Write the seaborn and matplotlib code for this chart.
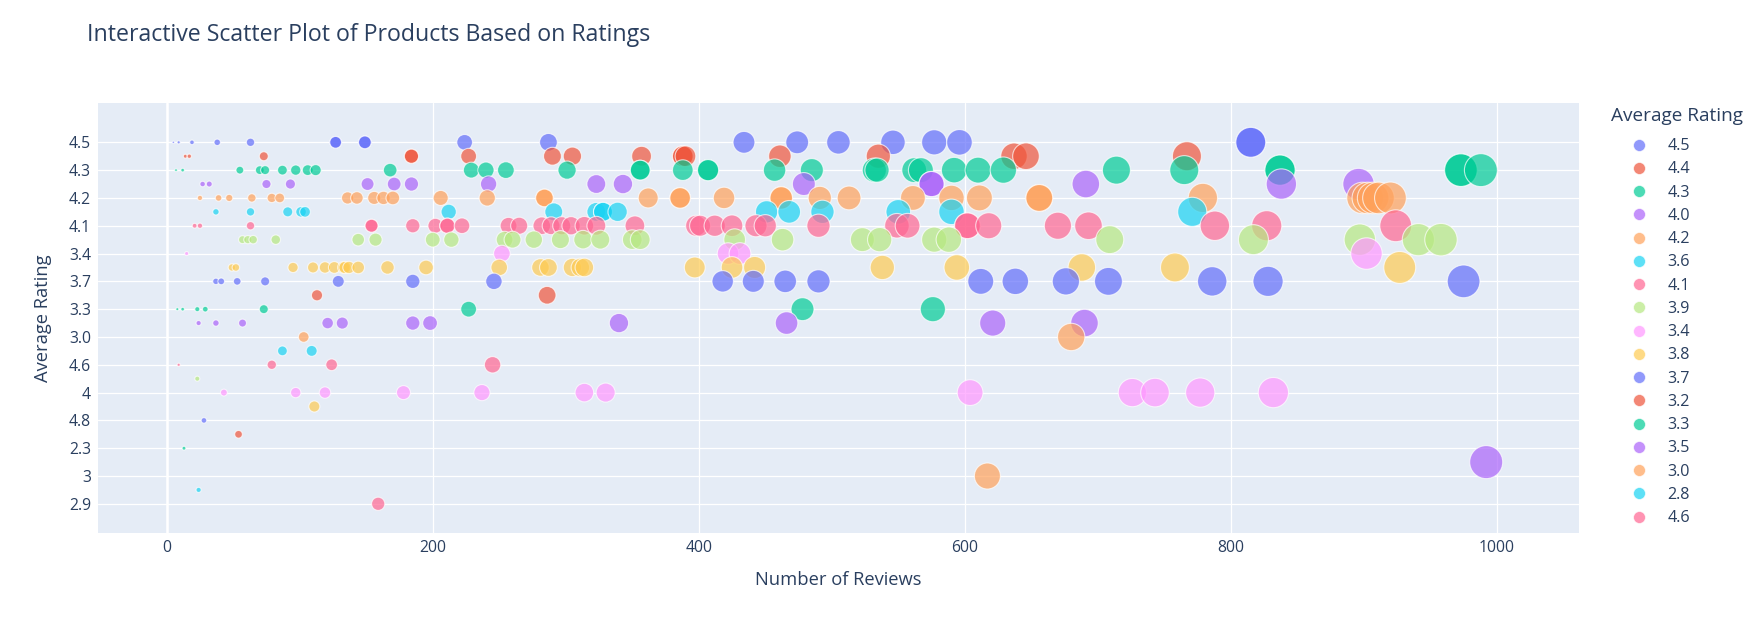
import pandas as pd
import matplotlib
matplotlib.use("Agg")
import matplotlib.pyplot as plt
from matplotlib.lines import Line2D
import seaborn as sns

# y categories in order of appearance (top to bottom)
rating_labels = ["4.5", "4.4", "4.3", "4.0", "4.2", "3.6", "4.1", "3.9", "3.4",
                 "3.8", "3.7", "3.2", "3.3", "3.5", "3.0", "2.8", "4.6", "4.7",
                 "4", "3.1", "4.8", "2.5", "2.3", "2", "3", "2.7", "2.9"]

# number of reviews per product, grouped by rating
reviews_4_5 = [5, 9, 19, 38, 63, 127, 127, 149, 149, 224, 287, 434, 474, 505,
               546, 577, 596, 815, 815]
reviews_4_4 = [14, 17, 73, 184, 184, 227, 290, 305, 357, 388, 388, 390, 461,
               535, 637, 646, 767]
reviews_4_3 = [7, 12, 55, 70, 74, 87, 97, 106, 112, 168, 229, 240, 255, 301,
               356, 356, 388, 407, 407, 457, 485, 532, 534, 562, 567, 592, 610,
               629, 714, 765, 837, 837, 973, 973, 988]
reviews_4_0 = [27, 32, 75, 93, 151, 171, 184, 242, 323, 343, 479, 575, 575,
               691, 838, 896]
reviews_4_2 = [25, 39, 47, 64, 79, 85, 136, 143, 156, 163, 170, 206, 241, 284,
               284, 362, 386, 386, 419, 462, 462, 491, 513, 561, 590, 611, 656,
               656, 779, 899, 903, 907, 911, 920]
reviews_3_6 = [37, 63, 91, 101, 104, 212, 291, 323, 328, 328, 339, 451, 468,
               493, 550, 590, 771]
reviews_4_1 = [21, 25, 63, 154, 154, 185, 202, 211, 211, 222, 257, 265, 282,
               289, 297, 304, 314, 323, 352, 398, 401, 412, 425, 443, 450, 490,
               549, 557, 602, 602, 618, 670, 693, 788, 827, 924]
reviews_3_9 = [57, 61, 65, 82, 144, 157, 200, 214, 254, 260, 276, 296, 313,
               326, 350, 356, 427, 463, 523, 536, 577, 588, 709, 817, 897, 941,
               958]
reviews_3_4 = [15, 252, 422, 431, 902]
reviews_3_8 = [49, 52, 95, 110, 119, 126, 133, 134, 137, 144, 166, 195, 250,
               281, 287, 305, 311, 314, 397, 425, 442, 538, 594, 688, 758, 927]
reviews_3_7 = [37, 41, 53, 74, 129, 185, 246, 418, 441, 465, 490, 612, 638,
               676, 708, 786, 828, 975]
reviews_3_2 = [113, 286]
reviews_3_3 = [8, 12, 23, 29, 73, 227, 478, 576]
reviews_3_5 = [24, 37, 57, 121, 132, 185, 198, 340, 466, 621, 690]
reviews_3_0 = [103, 680]
reviews_2_8 = [87, 109]
reviews_4_6 = [9, 79, 124, 245]
reviews_4_7 = [23]
reviews_4 = [43, 97, 119, 178, 237, 314, 330, 604, 726, 743, 777, 832]
reviews_3_1 = [111]
reviews_4_8 = [28]
reviews_2_5 = [54]
reviews_2_3 = [13]
reviews_2 = [992]
reviews_3 = [617]
reviews_2_7 = [24]
reviews_2_9 = [159]

reviews_by_rating = [reviews_4_5, reviews_4_4, reviews_4_3, reviews_4_0,
                     reviews_4_2, reviews_3_6, reviews_4_1, reviews_3_9,
                     reviews_3_4, reviews_3_8, reviews_3_7, reviews_3_2,
                     reviews_3_3, reviews_3_5, reviews_3_0, reviews_2_8,
                     reviews_4_6, reviews_4_7, reviews_4, reviews_3_1,
                     reviews_4_8, reviews_2_5, reviews_2_3, reviews_2,
                     reviews_3, reviews_2_7, reviews_2_9]

# plotly's default qualitative colours, cycled
plotly_colors = ["#636EFA", "#EF553B", "#00CC96", "#AB63FA", "#FFA15A",
                 "#19D3F3", "#FF6692", "#B6E880", "#FF97FF", "#FECB52"]
palette = {r: plotly_colors[i % len(plotly_colors)] for i, r in enumerate(rating_labels)}

rows = []
for r, vals in zip(rating_labels, reviews_by_rating):
    for v in vals:
        rows.append((r, v))
df = pd.DataFrame(rows, columns=["Average Rating", "Number of Reviews"])

text_color = "#2a3f5f"
sns.set_style("darkgrid", {"axes.facecolor": "#E5ECF6", "grid.color": "white"})
plt.rcParams["font.family"] = ["Open Sans", "DejaVu Sans"]

fig = plt.figure(figsize=(17.48, 6.27), dpi=100)
ax = fig.add_axes([0.0561, 0.1499, 0.8474, 0.6863])

sns.scatterplot(data=df, x="Number of Reviews", y="Average Rating",
                hue="Average Rating", hue_order=rating_labels, palette=palette,
                size="Number of Reviews", sizes=(0, 565), size_norm=(0, 992),
                alpha=0.7, edgecolor="white", linewidth=0.8, legend=False, ax=ax)

ax.set_xlim(-51.6, 1062)
ax.set_ylim(28.1, -2.85)
ax.set_xticks([0, 200, 400, 600, 800, 1000])
ax.set_yticks(range(0, len(rating_labels), 2))
ax.set_yticklabels(rating_labels[::2])
ax.grid(color="white", linewidth=0.9)
ax.axvline(0, color="white", linewidth=1.8, zorder=0.6)
for s in ax.spines.values():
    s.set_visible(False)
ax.tick_params(length=0, labelsize=11.3, colors=text_color, pad=5)
ax.set_xlabel("Number of Reviews", fontsize=13.2, color=text_color, labelpad=11)
ax.set_ylabel("Average Rating", fontsize=13.2, color=text_color, labelpad=12)

fig.text(0.05, 1 - 35 / 627, "Interactive Scatter Plot of Products Based on Ratings",
         fontsize=16.7, color=text_color, ha="left", va="center")

# plotly legend is clipped after 17 entries
shown = rating_labels[:17]
handles = [Line2D([], [], marker="o", linestyle="", markersize=8.6,
                  markerfacecolor=palette[r], markeredgecolor="white",
                  markeredgewidth=0.6, alpha=0.7) for r in shown]
leg = fig.legend(handles, shown, title="Average Rating", loc="upper left",
                 bbox_to_anchor=(1611 / 1748, 1 - 107 / 627), frameon=False,
                 fontsize=11.6, title_fontsize=13.7, labelspacing=0.45,
                 handlelength=3.5, handletextpad=0.0, alignment="left",
                 borderaxespad=0, borderpad=0)
leg._legend_box.sep = 9.5  # a bit more room under the legend title
leg.get_title().set_color(text_color)
for t in leg.get_texts():
    t.set_color(text_color)

fig.savefig("out.png", dpi=100)
